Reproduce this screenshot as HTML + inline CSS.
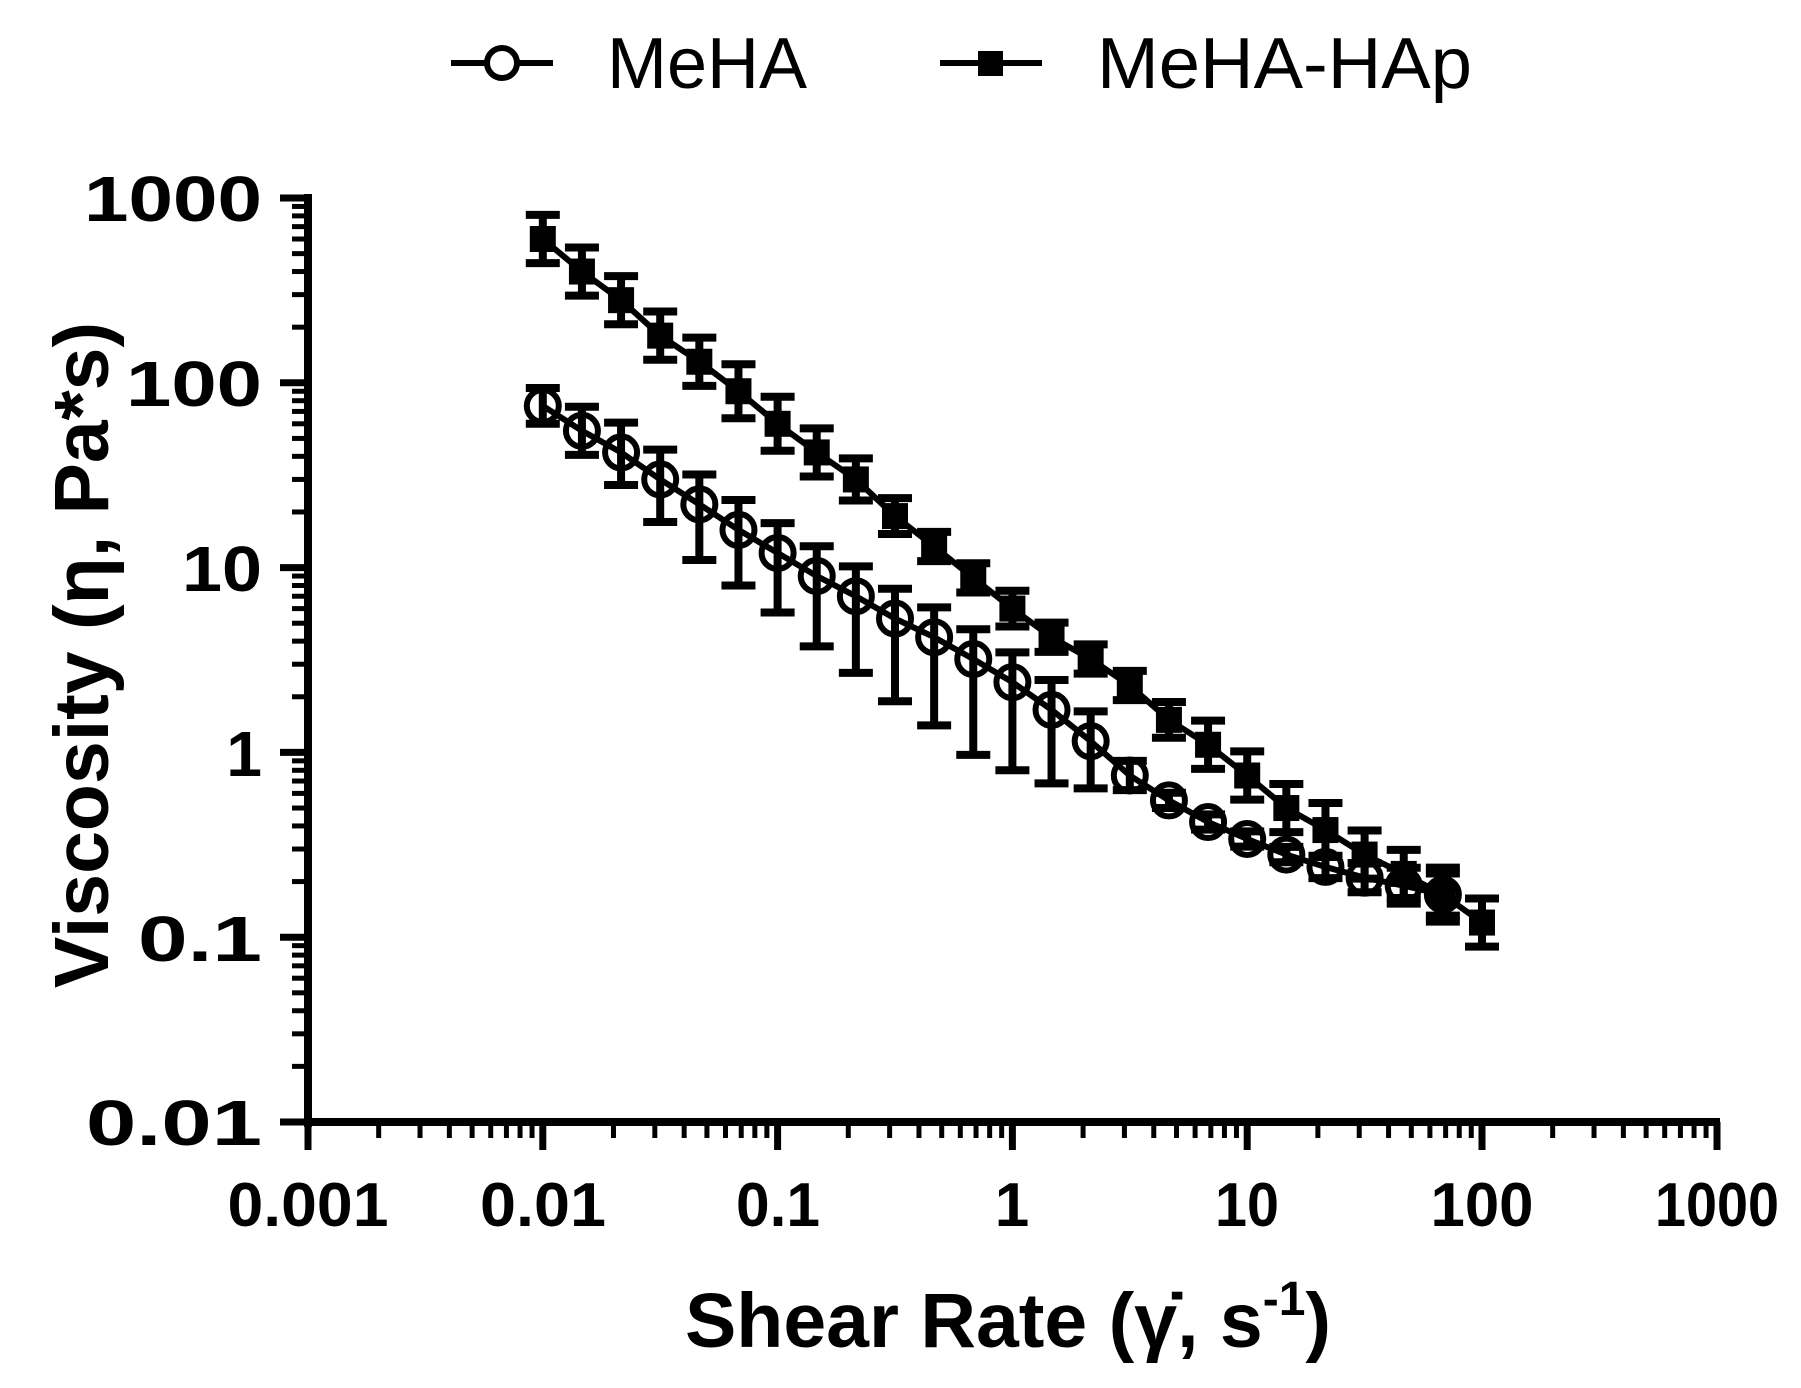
<!DOCTYPE html>
<html><head><meta charset="utf-8"><style>
html,body{margin:0;padding:0;background:#fff;}
svg{display:block;font-family:"Liberation Sans",Arial,sans-serif;}
</style></head><body>
<svg id="s" width="1801" height="1388" viewBox="0 0 1801 1388" xmlns="http://www.w3.org/2000/svg">
<rect width="1801" height="1388" fill="#fff"/>
<line x1="451" y1="63" x2="553" y2="63" stroke="#000" stroke-width="6"/>
<circle cx="502" cy="63" r="15" fill="#fff" stroke="#000" stroke-width="6"/>
<text x="607" y="88" font-size="72" fill="#000">MeHA</text>
<line x1="940" y1="63" x2="1042" y2="63" stroke="#000" stroke-width="6"/>
<rect x="978" y="51" width="25" height="25" fill="#000"/>
<text x="1097" y="88" font-size="72" fill="#000" textLength="375" lengthAdjust="spacingAndGlyphs">MeHA-HAp</text>
<g id="axes" stroke="#000"></g>
<g font-weight="bold" font-size="64" fill="#000" text-anchor="end">
<text x="262" y="221" textLength="178" lengthAdjust="spacingAndGlyphs">1000</text>
<text x="262" y="406" textLength="136" lengthAdjust="spacingAndGlyphs">100</text>
<text x="262" y="591" textLength="80" lengthAdjust="spacingAndGlyphs">10</text>
<text x="262" y="776">1</text>
<text x="262" y="961" textLength="124" lengthAdjust="spacingAndGlyphs">0.1</text>
<text x="262" y="1145" textLength="176" lengthAdjust="spacingAndGlyphs">0.01</text>
</g>
<g font-weight="bold" font-size="62" fill="#000" text-anchor="middle">
<text x="308" y="1226" textLength="161" lengthAdjust="spacingAndGlyphs">0.001</text>
<text x="543" y="1226" textLength="126" lengthAdjust="spacingAndGlyphs">0.01</text>
<text x="778" y="1226" textLength="84" lengthAdjust="spacingAndGlyphs">0.1</text>
<text x="1012" y="1226">1</text>
<text x="1247" y="1226" textLength="64" lengthAdjust="spacingAndGlyphs">10</text>
<text x="1482" y="1226" textLength="103" lengthAdjust="spacingAndGlyphs">100</text>
<text x="1717" y="1226" textLength="124" lengthAdjust="spacingAndGlyphs">1000</text>
</g>
<text x="1008" y="1347" font-weight="bold" font-size="77" text-anchor="middle" fill="#000">Shear Rate (γ̇, s<tspan font-size="48" dy="-32">-1</tspan><tspan dy="32">)</tspan></text>
<text transform="translate(108,655) rotate(-90)" font-weight="bold" font-size="77" text-anchor="middle" fill="#000">Viscosity (η, Pa*s)</text>
<g id="data"></g>
</svg>
<script>
var NS="http://www.w3.org/2000/svg";
function X(v){return 308+(Math.log10(v)+3)*234.8;}
function Y(v){return 198+(3-Math.log10(v))*184.8;}
function el(p,t,a){var e=document.createElementNS(NS,t);for(var k in a)e.setAttribute(k,a[k]);p.appendChild(e);return e;}
var ax=document.getElementById('axes');
el(ax,'line',{x1:308,y1:194,x2:308,y2:1127,'stroke-width':8});
el(ax,'line',{x1:304,y1:1122,x2:1720,y2:1122,'stroke-width':8});
for(var d=-2;d<3;d++){for(var m=1;m<10;m++){var v=m*Math.pow(10,d);var y=Y(v);
 el(ax,'line',{x1:m==1?280:292,y1:y,x2:308,y2:y,'stroke-width':m==1?7:5});}}
el(ax,'line',{x1:280,y1:198,x2:308,y2:198,'stroke-width':7});
for(var d=-3;d<3;d++){for(var m=1;m<10;m++){var v=m*Math.pow(10,d);var x=X(v);
 el(ax,'line',{x1:x,y1:1122,x2:x,y2:m==1?1150:1138,'stroke-width':m==1?7:5});}}
el(ax,'line',{x1:1717,y1:1122,x2:1717,y2:1150,'stroke-width':7});
var hap=[600,400,280,180,130,90,60,42,30,19,13,8.8,6,4.2,3.2,2.3,1.5,1.1,0.75,0.5,0.38,0.28,0.22,0.17,0.12];
var hapE=[1.35,1.35,1.35,1.35,1.35,1.4,1.4,1.35,1.3,1.25,1.2,1.2,1.25,1.2,1.2,1.2,1.25,1.35,1.35,1.35,1.4,1.35,1.35,1.4,1.35];
var me=[75,55,42,30,22,16,12,9,7,5.3,4.2,3.2,2.4,1.7,1.15,0.75,0.55,0.42,0.34,0.28,0.24,0.21,0.19,0.17];
var meE=[1.25,1.35,1.5,1.7,2,2,2.1,2.4,2.6,2.8,3,3.3,3,2.5,1.8,1.2,1.1,1.1,1.1,1.1,1.15,1.2,1.25,1.3];
var g=document.getElementById('data');
function xs(i){return Math.pow(10,-2+i/6);}
function bars(arr,err,up){for(var i=0;i<arr.length;i++){var x=X(xs(i)),v=arr[i],e=err[i];
 var y1=Y(v*(up?Math.min(e,1.45):e)),y2=Y(v/e);
 el(g,'line',{x1:x,y1:y1,x2:x,y2:y2,stroke:'#000','stroke-width':8});
 el(g,'line',{x1:x-17,y1:y1,x2:x+17,y2:y1,stroke:'#000','stroke-width':8});
 el(g,'line',{x1:x-17,y1:y2,x2:x+17,y2:y2,stroke:'#000','stroke-width':8});}}
function path(arr){var p='';for(var i=0;i<arr.length;i++)p+=(i?'L':'M')+X(xs(i))+' '+Y(arr[i]);
 el(g,'path',{d:p,fill:'none',stroke:'#000','stroke-width':6});}
bars(me,meE,true);bars(hap,hapE,false);
path(me);path(hap);
for(var i=0;i<me.length;i++)el(g,'circle',{cx:X(xs(i)),cy:Y(me[i]),r:16,fill:'none',stroke:'#000','stroke-width':6});
for(var i=0;i<hap.length;i++)el(g,'rect',{x:X(xs(i))-13,y:Y(hap[i])-13,width:26,height:26,fill:'#000'});
</script>
</body></html>
